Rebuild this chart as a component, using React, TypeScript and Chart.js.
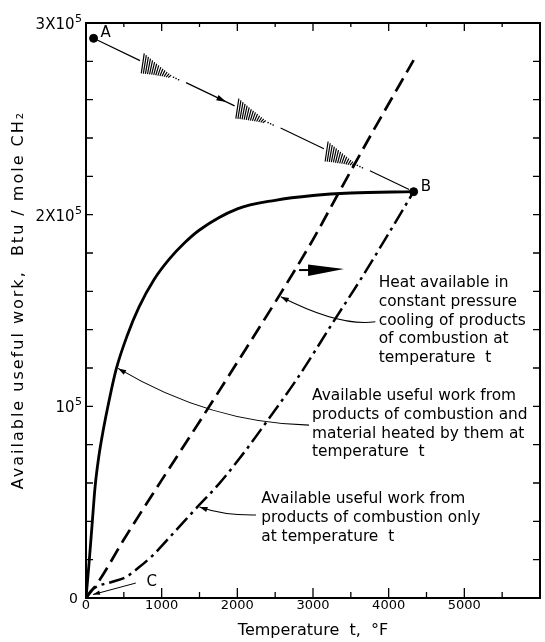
import React, { useEffect, useRef } from 'react';
import { Chart, registerables } from 'chart.js';

Chart.register(...registerables);

// Available useful work from products of combustion and material heated by them (solid)
const combinedTemps = [0, 40, 80, 120, 170, 228, 300, 400, 550, 700, 900, 1100, 1300, 1500, 2000, 2500, 3000, 3500, 4330];
const combinedWork = [0, 18000, 38000, 58000, 74000, 87600, 102000, 119500, 137500, 151800, 166200, 176800, 185200, 192000, 203000, 207500, 210000, 211300, 212000];

// Heat available in constant pressure cooling of products of combustion (dashed)
const heatTemps = [0, 180, 500, 1000, 1500, 2000, 2550, 3000, 3320, 3800, 4330];
const heatWork = [0, 9400, 30500, 61500, 92000, 123000, 157500, 187000, 210000, 244000, 280600];

// Available useful work from products of combustion only (dash-dot)
const productsTemps = [0, 60, 140, 350, 535, 700, 886, 1193, 1456, 1763, 2114, 2333, 2800, 3298, 3650, 4000, 4330];
const productsWork = [0, 3500, 5900, 8500, 11100, 16000, 22400, 35500, 46800, 59800, 77200, 89000, 115000, 145900, 167500, 190200, 212000];

// Marked states A and B
const pointNames = ['A', 'B'];
const pointTemps = [100, 4330];
const pointWork = [292000, 212000];

// Ticks
const xTickValues = [0, 1000, 2000, 3000, 4000, 5000];
const xTickLabels = ['0', '1000', '2000', '3000', '4000', '5000'];
const yTickValues = [0, 100000, 200000, 300000];
const yTickBases = ['0', '10', '2X10', '3X10'];
const yTickExps = ['', '5', '5', '5'];

// Process A -> B decorations (temperatures along the path)
const hatchTemps = [750, 2000, 3180];
const flowArrowTemp = 1855;

// Annotation texts
const noteLines = [
  ['Heat available in', 'constant pressure', 'cooling of products', 'of combustion at', 'temperature  t'],
  ['Available useful work from', 'products of combustion and', 'material heated by them at', 'temperature  t'],
  ['Available useful work from', 'products of combustion only', 'at temperature  t'],
];

const ANN = {
  notes: [
    { x: 3868, y: 164300 },
    { x: 2987, y: 105400 },
    { x: 2316, y: 51600 },
  ],
  leaders: [
    { s: [3824, 144100], c: [3353, 141500], t: [2575, 157200] },
    { s: [2947, 90200], c: [1655, 91100], t: [425, 119800] },
    { s: [2246, 43300], c: [1829, 43000], t: [1500, 47500] },
  ],
  bigArrow: { x0: 2816, x1: 3408, y: 171100 },
  cLabel: { x: 800, y: 8300, from: [658, 7800], to: [92, 1800] },
};

const FONT = '"DejaVu Sans", sans-serif';

function arrowHead(ctx: CanvasRenderingContext2D, tx: number, ty: number, fx: number, fy: number, len: number, half: number) {
  const a = Math.atan2(ty - fy, tx - fx);
  const c = Math.cos(a), s = Math.sin(a);
  ctx.beginPath();
  ctx.moveTo(tx, ty);
  ctx.lineTo(tx - len * c + half * s, ty - len * s - half * c);
  ctx.lineTo(tx - len * c - half * s, ty - len * s + half * c);
  ctx.closePath();
  ctx.fill();
}

const decoPlugin = {
  id: 'deco',
  afterDatasetsDraw(chart: any) {
    const ctx: CanvasRenderingContext2D = chart.ctx;
    const xs = chart.scales.x, ys = chart.scales.y;
    const px = (v: number) => xs.getPixelForValue(v);
    const py = (v: number) => ys.getPixelForValue(v);
    const { left, right, top, bottom } = chart.chartArea;
    ctx.save();
    ctx.strokeStyle = '#000';
    ctx.fillStyle = '#000';

    // frame
    ctx.lineWidth = 2;
    ctx.strokeRect(left, top, right - left, bottom - top);

    // inward ticks
    ctx.lineWidth = 1.3;
    ctx.beginPath();
    for (let v = 500; v < 6000; v += 500) {
      const major = v % 1000 === 0;
      const x = px(v);
      ctx.moveTo(x, bottom); ctx.lineTo(x, bottom - (major ? 10 : 6));
      ctx.moveTo(x, top); ctx.lineTo(x, top + (major ? 8 : 4));
    }
    for (let v = 20000; v < 300000; v += 20000) {
      const y = py(v);
      ctx.moveTo(left, y); ctx.lineTo(left + 7, y);
      ctx.moveTo(right, y); ctx.lineTo(right - 7, y);
    }
    ctx.stroke();

    // y tick labels with superscripts
    ctx.textBaseline = 'alphabetic';
    yTickValues.forEach((v, i) => {
      const y = py(v);
      const xr = left - 4;
      if (yTickExps[i]) {
        ctx.font = `11px ${FONT}`;
        const ew = ctx.measureText(yTickExps[i]).width;
        ctx.textAlign = 'right';
        ctx.fillText(yTickExps[i], xr, y - 1);
        ctx.font = `15px ${FONT}`;
        ctx.fillText(yTickBases[i], xr - ew - 0.5, y + 6);
      } else {
        ctx.font = `14px ${FONT}`;
        ctx.textAlign = 'right';
        ctx.fillText(yTickBases[i], xr - 4, y + 5);
      }
    });

    // axis titles
    ctx.font = `16px ${FONT}`;
    ctx.textAlign = 'center';
    ctx.textBaseline = 'middle';
    ctx.fillText('Temperature  t,  °F', (left + right) / 2, 631);
    ctx.save();
    ctx.translate(19, 300);
    ctx.rotate(-Math.PI / 2);
    (ctx as any).letterSpacing = '2px';
    ctx.fillText('Available useful work,  Btu / mole CH\u2082', 0, 0);
    ctx.restore();

    // A -> B process line with hatched cones
    const ax = px(pointTemps[0]), ay = py(pointWork[0]);
    const bx = px(pointTemps[1]), by = py(pointWork[1]);
    const L = Math.hypot(bx - ax, by - ay);
    const ux = (bx - ax) / L, uy = (by - ay) / L;
    const at = (d: number) => [ax + ux * d, ay + uy * d];
    const starts = hatchTemps.map((t) => (px(t) - ax) / ux);
    const coneLen = 32, tailLen = 10, gapAfter = 6;
    ctx.lineWidth = 1.2;
    const segs: [number, number][] = [];
    let prev = 4;
    starts.forEach((s) => { segs.push([prev, s - 3]); prev = s + coneLen + tailLen + gapAfter; });
    segs.push([prev, L - 5]);
    ctx.beginPath();
    segs.forEach(([d0, d1]) => {
      const p0 = at(d0), p1 = at(d1);
      ctx.moveTo(p0[0], p0[1]); ctx.lineTo(p1[0], p1[1]);
    });
    ctx.stroke();
    ctx.lineWidth = 1.2;
    starts.forEach((s) => {
      ctx.beginPath();
      for (let d = 0; d <= coneLen; d += 2.3) {
        const h = 20 * Math.pow(1 - d / (coneLen + 4), 1.2);
        const [cx, cy] = at(s + d);
        ctx.moveTo(cx + 1.5, cy - h / 2 + 1.5);
        ctx.lineTo(cx - 1.5, cy + h / 2 + 1.5);
      }
      ctx.stroke();
      for (let d = coneLen + 2; d <= coneLen + tailLen; d += 2.8) {
        const [cx, cy] = at(s + d);
        ctx.fillRect(cx - 0.6, cy, 1.4, 1.4);
      }
    });
    {
      const d = (px(flowArrowTemp) - ax) / ux;
      const [tx, ty] = at(d);
      arrowHead(ctx, tx, ty, tx - ux, ty - uy, 10, 2.8);
    }

    // point labels
    ctx.font = `15px ${FONT}`;
    ctx.textAlign = 'left';
    ctx.textBaseline = 'middle';
    pointNames.forEach((n, i) => {
      ctx.fillText(n, px(pointTemps[i]) + 7, py(pointWork[i]) - 5);
    });
    // C label and leader
    const C = ANN.cLabel;
    ctx.fillText('C', px(C.x), py(C.y));
    ctx.lineWidth = 1;
    ctx.beginPath();
    ctx.moveTo(px(C.from[0]), py(C.from[1]));
    ctx.lineTo(px(C.to[0]), py(C.to[1]));
    ctx.stroke();
    arrowHead(ctx, px(C.to[0]), py(C.to[1]), px(C.from[0]), py(C.from[1]), 7, 2.2);

    // big arrow
    {
      const b = ANN.bigArrow;
      const x0 = px(b.x0), x1 = px(b.x1), y = py(b.y);
      ctx.lineWidth = 2;
      ctx.beginPath(); ctx.moveTo(x0, y); ctx.lineTo(x0 + 12, y); ctx.stroke();
      ctx.beginPath();
      ctx.moveTo(x0 + 9, y - 5.5);
      ctx.lineTo(x1, y - 1);
      ctx.lineTo(x0 + 9, y + 6);
      ctx.closePath();
      ctx.fill();
    }

    // annotation texts
    ctx.font = `15.4px ${FONT}`;
    ctx.textAlign = 'left';
    ctx.textBaseline = 'middle';
    noteLines.forEach((lines, i) => {
      const n = ANN.notes[i];
      lines.forEach((ln, j) => ctx.fillText(ln, px(n.x), py(n.y) + j * 18.8));
    });

    // leader curves
    ctx.lineWidth = 1.1;
    ANN.leaders.forEach((ld) => {
      const sx = px(ld.s[0]), sy = py(ld.s[1]);
      const cx = px(ld.c[0]), cy = py(ld.c[1]);
      const tx = px(ld.t[0]), ty = py(ld.t[1]);
      ctx.beginPath();
      ctx.moveTo(sx, sy);
      ctx.quadraticCurveTo(cx, cy, tx, ty);
      ctx.stroke();
      arrowHead(ctx, tx, ty, cx, cy, 8, 2.6);
    });

    ctx.restore();
  },
};

export default function App() {
  const ref = useRef<HTMLCanvasElement>(null);
  useEffect(() => {
    document.body.style.margin = '0';
    const toXY = (xs: number[], ys: number[]) => xs.map((x, i) => ({ x, y: ys[i] }));
    const chart = new Chart(ref.current as HTMLCanvasElement, {
      type: 'scatter',
      data: {
        datasets: [
          {
            label: 'Available useful work from products of combustion and material heated by them',
            data: toXY(combinedTemps, combinedWork),
            showLine: true, borderColor: '#000', borderWidth: 2.8, pointRadius: 0,
            cubicInterpolationMode: 'monotone',
          },
          {
            label: 'Heat available in constant pressure cooling of products of combustion',
            data: toXY(heatTemps, heatWork),
            showLine: true, borderColor: '#000', borderWidth: 2.7, pointRadius: 0,
            borderDash: [15, 7], cubicInterpolationMode: 'monotone',
          },
          {
            label: 'Available useful work from products of combustion only',
            data: toXY(productsTemps, productsWork),
            showLine: true, borderColor: '#000', borderWidth: 2.5, pointRadius: 0,
            borderDash: [16, 5, 3, 5], cubicInterpolationMode: 'monotone',
          },
          {
            label: 'States',
            data: toXY(pointTemps, pointWork),
            showLine: false, pointRadius: 4, backgroundColor: '#000', borderColor: '#000',
          },
        ] as any,
      },
      options: {
        responsive: false,
        animation: false,
        devicePixelRatio: 1,
        layout: { padding: { top: 23, right: 2, left: 0, bottom: 0 } },
        plugins: { legend: { display: false }, tooltip: { enabled: false }, title: { display: false } },
        scales: {
          x: {
            type: 'linear', min: 0, max: 6000,
            grid: { display: false, drawTicks: false },
            border: { display: false },
            ticks: {
              stepSize: 1000, padding: 0, autoSkip: false, maxRotation: 0,
              color: '#000', font: { family: FONT, size: 13 },
              callback: (v: any) => { const i = xTickValues.indexOf(Number(v)); return i >= 0 ? xTickLabels[i] : ''; },
            },
            afterFit: (s: any) => { s.height = 44; },
          },
          y: {
            type: 'linear', min: 0, max: 300000,
            grid: { display: false, drawTicks: false },
            border: { display: false },
            ticks: { display: false, stepSize: 100000 },
            afterFit: (s: any) => { s.width = 86; },
          },
        },
      } as any,
      plugins: [decoPlugin],
    });
    return () => chart.destroy();
  }, []);
  return (
    <div style={{ position: 'absolute', left: 0, top: 0, width: 545, height: 642, background: '#fff' }}>
      <canvas ref={ref} width={545} height={642} style={{ display: 'block', width: 545, height: 642 }} />
    </div>
  );
}
